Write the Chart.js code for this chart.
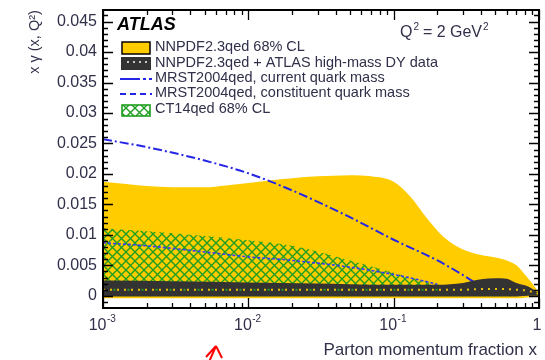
<!DOCTYPE html>
<html>
<head>
<meta charset="utf-8">
<script src="https://cdn.jsdelivr.net/npm/chart.js@4.4.1/dist/chart.umd.min.js"></script>
<style>
  html, body { margin: 0; padding: 0; background: #fff; }
  canvas { display: block; }
</style>
</head>
<body>
<canvas id="chart" width="545" height="360"></canvas>
<script>
// NNPDF2.3qed 68% CL band
const NNPDF_X  = [0.001, 0.0015, 0.002, 0.003, 0.005, 0.007, 0.01, 0.015, 0.02, 0.03, 0.05, 0.07, 0.1, 0.13, 0.17, 0.22, 0.3, 0.4, 0.5, 0.6, 0.7, 0.8, 0.9, 1.0];
const NNPDF_HI = [0.0187, 0.0183, 0.0180, 0.0178, 0.0178, 0.0181, 0.0185, 0.0190, 0.0193, 0.0196, 0.0198, 0.0196, 0.0187, 0.0163, 0.0127, 0.0097, 0.0076, 0.0067, 0.0063, 0.0058, 0.0050, 0.0035, 0.0020, 0.0005];
const NNPDF_LO = [-0.0004, -0.0004, -0.0004, -0.0004, -0.0004, -0.0004, -0.0004, -0.0004, -0.0004, -0.0004, -0.0004, -0.0004, -0.0004, -0.0004, -0.0004, -0.0004, -0.0004, -0.0004, -0.0004, -0.0004, -0.0004, -0.0003, -0.0002, 0.0];

// CT14qed 68% CL band
const CT14_X  = [0.001, 0.002, 0.005, 0.01, 0.02, 0.05, 0.1, 0.15, 0.2, 0.3];
const CT14_HI = [0.0111, 0.0106, 0.0098, 0.0091, 0.0082, 0.0058, 0.0038, 0.0026, 0.0018, 0.0012];
const CT14_LO = [0.0008, 0.0008, 0.0008, 0.0008, 0.0008, 0.0008, 0.0008, 0.0008, 0.0009, 0.0010];

// MRST2004qed, current quark mass
const MRST_CUR_X = [0.001, 0.002, 0.005, 0.01, 0.02, 0.05, 0.1, 0.2, 0.3, 0.4];
const MRST_CUR   = [0.0257, 0.0244, 0.0222, 0.0201, 0.0173, 0.0129, 0.0092, 0.0058, 0.0034, 0.0015];

// MRST2004qed, constituent quark mass
const MRST_CON_X = [0.001, 0.002, 0.005, 0.01, 0.02, 0.05, 0.1, 0.15, 0.2];
const MRST_CON   = [0.0087, 0.0082, 0.0072, 0.0064, 0.0058, 0.0047, 0.0035, 0.0026, 0.0019];

// NNPDF2.3qed + ATLAS high-mass DY data
const ATLAS_X   = [0.001, 0.003, 0.01, 0.03, 0.05, 0.1, 0.2, 0.3, 0.4, 0.5, 0.6, 0.7, 0.85, 1.0];
const ATLAS_HI  = [0.0025, 0.0024, 0.0022, 0.0020, 0.0019, 0.0018, 0.0018, 0.0021, 0.0027, 0.0029, 0.0028, 0.0021, 0.0015, 0.0004];
const ATLAS_LO  = [-0.0001, -0.0001, -0.0001, -0.0001, -0.0001, -0.0001, -0.0001, -0.0001, -0.0001, -0.0001, -0.0001, -0.0001, 0.0, 0.0];
const ATLAS_MID = [0.0010, 0.0010, 0.0010, 0.0010, 0.0010, 0.0010, 0.0010, 0.0010, 0.0011, 0.0011, 0.0011, 0.0010, 0.0008, 0.0003];

// axis ticks
const Y_TICKS = [0, 0.005, 0.01, 0.015, 0.02, 0.025, 0.03, 0.035, 0.04, 0.045];
const Y_TICK_LABELS = ['0', '0.005', '0.01', '0.015', '0.02', '0.025', '0.03', '0.035', '0.04', '0.045'];
const X_TICKS = [0.001, 0.01, 0.1, 1];
const X_TICK_BASE = ['10', '10', '10', '1'];
const X_TICK_EXP = ['-3', '-2', '-1', ''];

const LEGEND_LABELS = [
  'NNPDF2.3qed 68% CL',
  'NNPDF2.3qed + ATLAS high-mass DY data',
  'MRST2004qed, current quark mass',
  'MRST2004qed, constituent quark mass',
  'CT14qed 68% CL'
];

const YELLOW = '#ffcc00';
const DARK = '#333333';
const GREEN = '#1f9e1f';
const BLUE = '#2626e6';
const TEXT = '#30304a';
const FONT = '"Liberation Sans", Arial, sans-serif';

const canvas = document.getElementById('chart');
const ctx = canvas.getContext('2d');

const pts = (xs, ys) => xs.map((x, i) => ({ x, y: ys[i] }));

// green cross-hatch for the CT14 band
function hatchPattern() {
  const c = document.createElement('canvas');
  c.width = c.height = 9;
  const g = c.getContext('2d');
  g.strokeStyle = GREEN;
  g.lineWidth = 1.4;
  g.beginPath();
  g.moveTo(-1, -1); g.lineTo(10, 10);
  g.moveTo(10, -1); g.lineTo(-1, 10);
  g.stroke();
  return ctx.createPattern(c, 'repeat');
}
const HATCH = hatchPattern();

const base = { pointRadius: 0, borderWidth: 0, cubicInterpolationMode: 'monotone', fill: false };

// frame, inward ticks, labels, legend
const decorations = {
  id: 'decorations',
  afterDraw(chart) {
    const { ctx, chartArea } = chart;
    const { left, right, top, bottom } = chartArea;
    const xs = chart.scales.x, ys = chart.scales.y;
    ctx.save();

    // ticks
    ctx.strokeStyle = '#000';
    ctx.lineWidth = 1.3;
    ctx.beginPath();
    for (let k = -2; k <= 46; k++) {
      const py = Math.round(ys.getPixelForValue(k / 1000)) + 0.5;
      if (py < top || py > bottom) continue;
      const len = k % 5 === 0 ? 10 : 5;
      ctx.moveTo(left, py); ctx.lineTo(left + len, py);
      ctx.moveTo(right, py); ctx.lineTo(right - len, py);
    }
    for (let d = -3; d <= 0; d++) {
      for (let m = 1; m <= 9; m++) {
        if (d === 0 && m > 1) break;
        const px = Math.round(xs.getPixelForValue(m * Math.pow(10, d))) + 0.5;
        const len = m === 1 ? 10 : 5;
        ctx.moveTo(px, bottom); ctx.lineTo(px, bottom - len);
        ctx.moveTo(px, top); ctx.lineTo(px, top + len);
      }
    }
    ctx.stroke();

    // frame
    ctx.lineWidth = 2;
    ctx.strokeRect(left, top, right - left, bottom - top);

    // y tick labels
    ctx.fillStyle = TEXT;
    ctx.font = '16px ' + FONT;
    ctx.textAlign = 'right';
    ctx.textBaseline = 'middle';
    Y_TICKS.forEach((v, i) => ctx.fillText(Y_TICK_LABELS[i], 97, ys.getPixelForValue(v)));

    // x tick labels, 10 with a raised exponent
    ctx.textAlign = 'left';
    X_TICKS.forEach((v, i) => {
      const px = xs.getPixelForValue(v);
      ctx.font = '16px ' + FONT;
      const wb = ctx.measureText(X_TICK_BASE[i]).width;
      ctx.font = '10px ' + FONT;
      const we = ctx.measureText(X_TICK_EXP[i]).width;
      let x0 = px - (wb + we) / 2 - 1;
      if (i === X_TICKS.length - 1) x0 = px - wb / 2 - 2;
      ctx.font = '16px ' + FONT;
      ctx.fillText(X_TICK_BASE[i], x0, 326);
      ctx.font = '10px ' + FONT;
      ctx.fillText(X_TICK_EXP[i], x0 + wb + 0.5, 319);
    });

    // axis titles
    ctx.font = '17px ' + FONT;
    ctx.textAlign = 'right';
    ctx.fillText('Parton momentum fraction x', 537, 350);
    ctx.save();
    ctx.translate(35, 42);
    ctx.rotate(-Math.PI / 2);
    ctx.textAlign = 'center';
    ctx.font = '14.5px ' + FONT;
    ctx.fillText('x \u03b3 (x, Q\u00b2)', 0, 0);
    ctx.restore();

    // ATLAS label and Q^2
    ctx.textAlign = 'left';
    ctx.fillStyle = '#000';
    ctx.font = 'italic bold 18px ' + FONT;
    ctx.fillText('ATLAS', 117, 25);
    ctx.fillStyle = TEXT;
    ctx.font = '16px ' + FONT;
    ctx.fillText('Q', 400, 33);
    let qx = 400 + ctx.measureText('Q').width;
    ctx.font = '10px ' + FONT;
    ctx.fillText('2', qx + 1, 27);
    ctx.font = '16px ' + FONT;
    ctx.fillText(' = 2 GeV', qx + 6, 33);
    qx += 6 + ctx.measureText(' = 2 GeV').width;
    ctx.font = '10px ' + FONT;
    ctx.fillText('2', qx + 1, 27);

    // legend
    const rows = [48, 64, 79, 94, 110];
    // yellow band
    ctx.fillStyle = YELLOW;
    ctx.fillRect(122, rows[0] - 6, 28, 12);
    ctx.strokeStyle = '#000';
    ctx.lineWidth = 1.5;
    ctx.strokeRect(122, rows[0] - 6, 28, 12);
    // dark band with dots
    ctx.fillStyle = DARK;
    ctx.fillRect(121, rows[1] - 7, 30, 13);
    ctx.fillStyle = '#c8c8c8';
    [127, 133, 139, 145].forEach(x => ctx.fillRect(x, rows[1] - 3, 2, 2));
    // blue lines
    ctx.strokeStyle = BLUE;
    ctx.lineWidth = 2;
    ctx.setLineDash([20, 3, 3, 3]);
    ctx.beginPath(); ctx.moveTo(120, rows[2]); ctx.lineTo(152, rows[2]); ctx.stroke();
    ctx.setLineDash([6, 4]);
    ctx.beginPath(); ctx.moveTo(120, rows[3]); ctx.lineTo(152, rows[3]); ctx.stroke();
    ctx.setLineDash([]);
    // hatched CT14 box
    ctx.fillStyle = '#fff';
    ctx.fillRect(122, rows[4] - 5, 28, 11);
    ctx.fillStyle = HATCH;
    ctx.fillRect(122, rows[4] - 5, 28, 11);
    ctx.strokeStyle = GREEN;
    ctx.lineWidth = 1.6;
    ctx.strokeRect(122, rows[4] - 5, 28, 11);

    ctx.fillStyle = TEXT;
    ctx.font = '14.5px ' + FONT;
    ctx.textBaseline = 'middle';
    LEGEND_LABELS.forEach((t, i) => ctx.fillText(t, 155, rows[i] - 1));

    // red arrow below the axis
    ctx.strokeStyle = '#ff0000';
    ctx.lineWidth = 2;
    ctx.beginPath();
    ctx.moveTo(216, 346); ctx.lineTo(209, 362);
    ctx.moveTo(216, 346); ctx.lineTo(206, 357);
    ctx.moveTo(216, 346); ctx.lineTo(222, 358);
    ctx.stroke();

    ctx.restore();
  }
};

new Chart(ctx, {
  type: 'line',
  data: {
    datasets: [
      { ...base, data: pts(NNPDF_X, NNPDF_LO), order: 10 },
      { ...base, data: pts(NNPDF_X, NNPDF_HI), order: 10, fill: 0, backgroundColor: YELLOW },
      { ...base, data: pts(CT14_X, CT14_LO), order: 8 },
      { ...base, data: pts(CT14_X, CT14_HI), order: 8, fill: 2, backgroundColor: HATCH },
      { ...base, data: pts(MRST_CON_X, MRST_CON), order: 6, borderWidth: 1.6, borderColor: '#3a3aff', borderDash: [3, 2] },
      { ...base, data: pts(MRST_CUR_X, MRST_CUR), order: 6, borderWidth: 2, borderColor: BLUE, borderDash: [9, 3, 2, 3] },
      { ...base, data: pts(ATLAS_X, ATLAS_LO), order: 4 },
      { ...base, data: pts(ATLAS_X, ATLAS_HI), order: 4, fill: 6, backgroundColor: DARK },
      { ...base, data: pts(ATLAS_X, ATLAS_MID), order: 2, borderWidth: 2, borderColor: '#e8c000', borderDash: [2, 5] },
      { ...base, data: pts(ATLAS_X.slice(0, 7), ATLAS_MID.slice(0, 7)), order: 1, borderWidth: 2, borderColor: '#2a9a2a', borderDash: [2, 12], borderDashOffset: 3.5 }
    ]
  },
  options: {
    responsive: false,
    animation: false,
    events: [],
    layout: { padding: { left: 103, right: 6, top: 10, bottom: 52 } },
    plugins: { legend: { display: false }, tooltip: { enabled: false } },
    scales: {
      x: { type: 'logarithmic', min: 0.001, max: 1, display: false },
      y: { type: 'linear', min: -0.002, max: 0.0469, display: false }
    }
  },
  plugins: [decorations]
});
</script>
</body>
</html>
